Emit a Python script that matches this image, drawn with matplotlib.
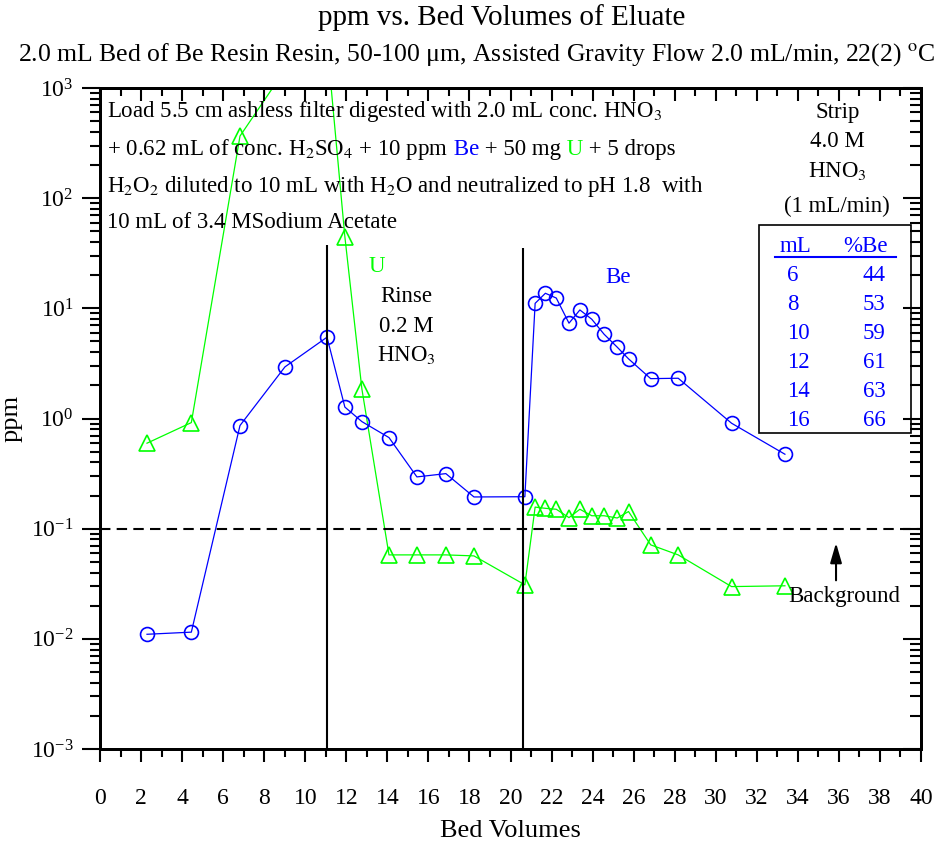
import matplotlib
matplotlib.use('Agg')
import matplotlib.pyplot as plt
from matplotlib.patches import Rectangle
from matplotlib.ticker import MultipleLocator, LogLocator, NullFormatter

plt.rcParams['font.family'] = ['Liberation Serif', 'DejaVu Serif']
plt.rcParams['mathtext.fontset'] = 'stix'
plt.rcParams['axes.unicode_minus'] = False

# bed volumes of eluate (shared by both series)
bed_volumes = [2.29, 4.45, 6.82, 9.01, 11.06, 11.93, 12.76, 14.08, 15.44, 16.85,
               18.22, 20.70, 21.20, 21.70, 22.23, 22.85, 23.38, 23.96, 24.56, 25.20,
               25.75, 26.83, 28.17, 30.77, 33.37]
be_ppm = [0.0110, 0.0115, 0.863, 2.94, 5.47, 1.27, 0.937, 0.671, 0.295, 0.316,
          0.194, 0.195, 11.1, 13.7, 12.4, 7.33, 9.67, 7.96, 5.82, 4.44,
          3.48, 2.30, 2.32, 0.906, 0.474]
u_ppm = [0.597, 0.918, 366, 1460, 2590, 44.7, 1.85, 0.0578, 0.0578, 0.0578,
         0.0566, 0.0309, 0.157, 0.153, 0.150, 0.126, 0.150, 0.131, 0.131, 0.125,
         0.143, 0.0713, 0.0578, 0.0298, 0.0303]

# strip recovery table
strip_ml = [6, 8, 10, 12, 14, 16]
strip_pct_be = [44, 53, 59, 61, 63, 66]

rinse_start = 11.08
strip_start = 20.62
divider_top = [37.6, 35.3]
background = 0.1

fs = 16.5  # annotation font size

fig = plt.figure(figsize=(9.39, 8.44), dpi=100)
ax = fig.add_axes([100 / 939, (844 - 749) / 844, 821 / 939, 661 / 844])

ax.plot(bed_volumes, u_ppm, color='#00ff00', lw=0.9, marker='^', ms=11,
        mfc='none', mec='#00ff00', mew=1.2)
ax.plot(bed_volumes, be_ppm, color='#0000ff', lw=0.9, marker='o', ms=10,
        mfc='none', mec='#0000ff', mew=1.2)

ax.vlines([rinse_start, strip_start], 1e-3, divider_top, color='black', lw=1.5)
ax.axhline(background, color='black', lw=1.5, ls=(0, (5, 3)))

ax.set_xlim(0, 40)
ax.set_ylim(1e-3, 1e3)
ax.set_yscale('log')
ax.xaxis.set_major_locator(MultipleLocator(2))
ax.xaxis.set_minor_locator(MultipleLocator(1))
ax.yaxis.set_major_locator(LogLocator(base=10, numticks=10))
ax.yaxis.set_minor_locator(LogLocator(base=10, subs=range(2, 10), numticks=20))
ax.yaxis.set_minor_formatter(NullFormatter())

for s in ax.spines.values():
    s.set_linewidth(2)
ax.tick_params(axis='x', which='major', direction='out', length=9, width=1.5,
               labelsize=17, pad=19)
ax.tick_params(axis='x', which='minor', direction='out', length=6, width=1.5)
ax.tick_params(axis='y', which='major', direction='out', length=13, width=1.5,
               labelsize=17, pad=6)
ax.tick_params(axis='y', which='minor', direction='out', length=7, width=1.5)

# inward ticks on top and right
axt = ax.twiny()
axt.set_xlim(0, 40)
axt.xaxis.set_major_locator(MultipleLocator(2))
axt.xaxis.set_minor_locator(MultipleLocator(1))
axt.tick_params(axis='x', which='major', direction='in', length=9, width=1.5, labeltop=False)
axt.tick_params(axis='x', which='minor', direction='in', length=6, width=1.5)
axr = ax.twinx()
axr.set_yscale('log')
axr.set_ylim(1e-3, 1e3)
axr.yaxis.set_major_locator(LogLocator(base=10, numticks=10))
axr.yaxis.set_minor_locator(LogLocator(base=10, subs=range(2, 10), numticks=20))
axr.tick_params(axis='y', which='major', direction='in', length=13, width=1.5, labelright=False)
axr.tick_params(axis='y', which='minor', direction='in', length=8, width=1.5, labelright=False)
for a in (axt, axr):
    for s in a.spines.values():
        s.set_linewidth(2)

ax.set_xlabel('Bed Volumes', fontsize=19, labelpad=8)
ax.set_ylabel('ppm', fontsize=19, labelpad=6)

fig.text(502 / 939, 1 - 18 / 844, 'ppm vs. Bed Volumes of Eluate', ha='center', va='center', fontsize=21)
fig.text(477 / 939, 1 - 55 / 844,
         '2.0 mL Bed of Be Resin Resin, 50-100 μm, Assisted Gravity Flow 2.0 mL/min, 22(2) $^{\\rm o}$C',
         ha='center', va='center', fontsize=18.5)

# load description
tkw = dict(transform=ax.transAxes, fontsize=fs, va='baseline', ha='left')
ax.text(0.0085, 0.956, 'Load 5.5 cm ashless filter digested with 2.0 mL conc. HNO$_3$', **tkw)
fig.canvas.draw()
x = 0.0085
for piece, col in [('+ 0.62 mL of conc. H$_2$SO$_4$ + 10 ppm', 'black'), (' Be', '#0000ff'),
                   (' + 50 mg', 'black'), (' U', '#00ff00'), (' + 5 drops', 'black')]:
    t = ax.text(x, 0.898, piece, color=col, **tkw)
    x = t.get_window_extent(fig.canvas.get_renderer()).transformed(ax.transAxes.inverted()).x1
ax.text(0.0085, 0.842, 'H$_2$O$_2$ diluted to 10 mL with H$_2$O and neutralized to pH 1.8  with', **tkw)
ax.text(0.0085, 0.788, '10 mL of 3.4 MSodium Acetate', **tkw)

# section labels
ckw = dict(transform=ax.transAxes, fontsize=fs, va='baseline', ha='center')
ax.text(0.337, 0.722, 'U', color='#00ff00', **ckw)
ax.text(0.3727, 0.6767, 'Rinse', **ckw)
ax.text(0.3727, 0.6314, '0.2 M', **ckw)
ax.text(0.3727, 0.5874, 'HNO$_3$', **ckw)
ax.text(0.6313, 0.7045, 'Be', color='#0000ff', **ckw)
ax.text(0.898, 0.954, 'Strip', **ckw)
ax.text(0.898, 0.911, '4.0 M', **ckw)
ax.text(0.898, 0.866, 'HNO$_3$', **ckw)
ax.text(0.898, 0.813, '(1 mL/min)', **ckw)

# strip table
ax.add_patch(Rectangle((0.8027, 0.4776), 0.9878 - 0.8027, 0.7927 - 0.4776,
                       transform=ax.transAxes, fill=False, ec='black', lw=1.2))
ax.plot([0.822, 0.970], [0.745, 0.745], transform=ax.transAxes, color='#0000ff', lw=1.5)
ax.text(0.8465, 0.760, 'mL', transform=ax.transAxes, fontsize=fs, color='#0000ff', ha='center', va='center')
ax.text(0.960, 0.760, '%Be', transform=ax.transAxes, fontsize=fs, color='#0000ff', ha='right', va='center')
for i, (ml, pct) in enumerate(zip(strip_ml, strip_pct_be)):
    y = 0.717 - i * 0.0439
    ax.text(0.837, y, str(ml), transform=ax.transAxes, fontsize=fs, color='#0000ff', ha='left', va='center')
    ax.text(0.957, y, str(pct), transform=ax.transAxes, fontsize=fs, color='#0000ff', ha='right', va='center')

# background marker
ax.text(0.906, 0.2229, 'Background', transform=ax.transAxes, fontsize=fs, ha='center', va='baseline')
ax.annotate('', xy=(0.8965, 0.316), xytext=(0.8965, 0.251), xycoords='axes fraction',
            arrowprops=dict(arrowstyle='-|>,head_length=1.2,head_width=0.35', color='black', lw=1.5))

fig.savefig('out.png', dpi=100)
